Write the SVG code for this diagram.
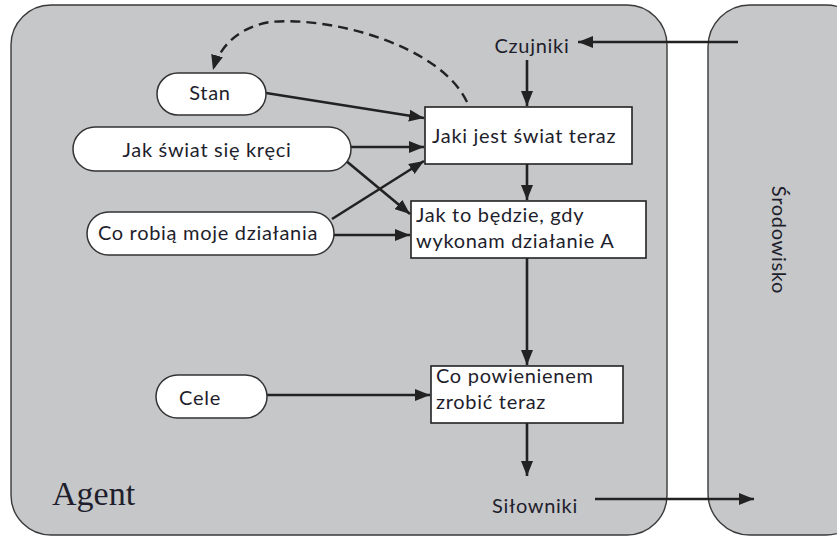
<svg xmlns="http://www.w3.org/2000/svg" width="837" height="537" viewBox="0 0 837 537">
  <style>
    .panel { fill: #c6c7c9; stroke: #3a3a3a; stroke-width: 1.4; }
    .pill { fill: #ffffff; stroke: #333333; stroke-width: 1.5; }
    .box { fill: #ffffff; stroke: #222222; stroke-width: 1.6; }
    .lbl { font-family: Lato, "Liberation Sans", sans-serif; font-size: 20px; letter-spacing: 0.7px; fill: #1e1e2c; }
    .mid { text-anchor: middle; }
    .edge { fill: none; stroke: #222222; stroke-width: 2.6; marker-end: url(#head); }
    .dash { fill: none; stroke: #222222; stroke-width: 2.4; stroke-dasharray: 10 6; marker-end: url(#head); }
  </style>
  <defs>
    <marker id="head" markerUnits="userSpaceOnUse" markerWidth="16" markerHeight="12" refX="15" refY="6" orient="auto">
      <path d="M0,0 L15,6 L0,12 z" fill="#222222"/>
    </marker>
  </defs>

  <rect width="837" height="537" fill="#ffffff"/>

  <!-- panels -->
  <g id="agent">
    <rect class="panel" x="11" y="5" width="656" height="530" rx="40" ry="40"/>
    <text x="52" y="505" font-family="'Liberation Serif', serif" font-size="34" fill="#1e1e2c">Agent</text>
  </g>
  <g id="srodowisko">
    <rect class="panel" x="708" y="5" width="160" height="530" rx="42" ry="42"/>
    <text class="lbl mid" transform="translate(772,240) rotate(90)" x="0" y="0">Środowisko</text>
  </g>

  <!-- connectors -->
  <g id="connectors">
    <path class="edge" d="M738,42 L578,42"/>
    <path class="edge" d="M527,60 L527,106"/>
    <path class="edge" d="M266,93 L424,118"/>
    <path class="edge" d="M351,147 L424,147"/>
    <path class="edge" d="M345,160 L410,214"/>
    <path class="edge" d="M332,219 L424,161"/>
    <path class="edge" d="M334,235 L410,235"/>
    <path class="edge" d="M527,164 L527,200"/>
    <path class="edge" d="M527,258 L527,365"/>
    <path class="edge" d="M267,395 L430,395"/>
    <path class="edge" d="M527,423 L527,476"/>
    <path class="edge" d="M595,499 L754,499"/>
    <path class="dash" d="M467,102 C440,45 330,16 270,22 C240,27 220,45 213,70"/>
  </g>

  <!-- sensors / actuators -->
  <g id="czujniki">
    <text class="lbl mid" x="532" y="53">Czujniki</text>
  </g>
  <g id="silowniki">
    <text class="lbl mid" x="535" y="513">Siłowniki</text>
  </g>

  <!-- left-side knowledge nodes -->
  <g id="stan">
    <rect class="pill" x="157" y="73" width="109" height="42" rx="21" ry="21"/>
    <text class="lbl mid" x="210" y="100">Stan</text>
  </g>
  <g id="jak-swiat">
    <rect class="pill" x="73" y="127" width="278" height="44" rx="22" ry="22"/>
    <text class="lbl mid" x="207" y="157">Jak świat się kręci</text>
  </g>
  <g id="co-robia">
    <rect class="pill" x="87" y="212" width="247" height="43" rx="21.5" ry="21.5"/>
    <text class="lbl mid" x="208" y="240">Co robią moje działania</text>
  </g>
  <g id="cele">
    <rect class="pill" x="156" y="375" width="111" height="43" rx="21.5" ry="21.5"/>
    <text class="lbl mid" x="200" y="405">Cele</text>
  </g>

  <!-- reasoning boxes -->
  <g id="jaki-jest">
    <rect class="box" x="425" y="107" width="207" height="57"/>
    <text class="lbl" x="432" y="143">Jaki jest świat teraz</text>
  </g>
  <g id="jak-to-bedzie">
    <rect class="box" x="411" y="201" width="235" height="57"/>
    <text class="lbl" x="416" y="222">Jak to będzie, gdy</text>
    <text class="lbl" x="416" y="248">wykonam działanie A</text>
  </g>
  <g id="co-powinienem">
    <rect class="box" x="431" y="366" width="192" height="57"/>
    <text class="lbl" x="436" y="383">Co powienienem</text>
    <text class="lbl" x="436" y="409">zrobić teraz</text>
  </g>
</svg>
